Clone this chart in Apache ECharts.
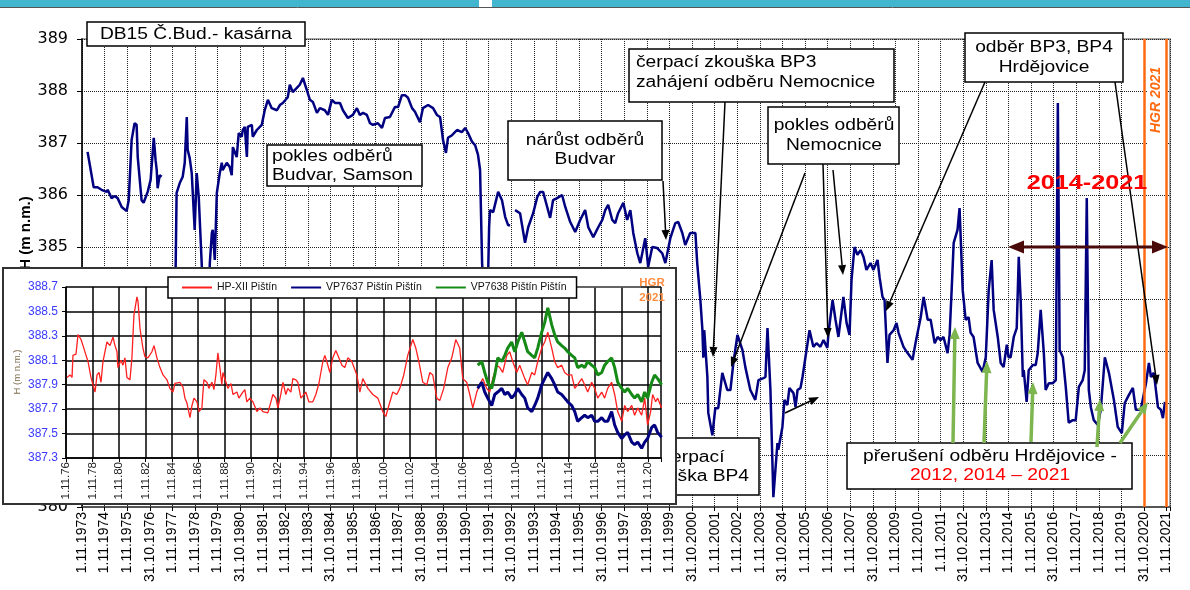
<!DOCTYPE html>
<html>
<head>
<meta charset="utf-8">
<script src="https://cdn.jsdelivr.net/npm/echarts@6/dist/echarts.min.js"></script>
<style>
  html, body { margin: 0; padding: 0; background: #fff; }
  #chart { width: 1190px; height: 590px; }
</style>
</head>
<body>
<div id="chart"></div>
<script>
// ---- DB15 Č.Bud.- kasárna : groundwater level (m n.m.), [decimal year, level]
const mainLevels = [
  [1974.08, 386.83], [1974.35, 386.15], [1974.52, 386.15], [1974.70, 386.10], [1974.92, 386.06],
  [1974.97, 386.10], [1975.14, 385.94], [1975.28, 385.98], [1975.41, 385.94], [1975.59, 385.77],
  [1975.81, 385.69], [1975.90, 385.90], [1976.03, 387.06], [1976.16, 387.38], [1976.25, 387.35],
  [1976.30, 386.73], [1976.47, 385.90], [1976.56, 385.85], [1976.74, 386.06], [1976.87, 386.29],
  [1977.01, 387.10], [1977.09, 386.67], [1977.14, 386.48], [1977.18, 386.13], [1977.27, 386.38],
  [1977.36, 386.35], [1977.60, null],
  [1977.95, 383.60], [1977.98, 384.69], [1978.02, 386.04], [1978.16, 386.23], [1978.29, 386.35],
  [1978.38, 386.62], [1978.47, 387.50], [1978.51, 386.87], [1978.60, 386.71], [1978.69, 386.42],
  [1978.82, 385.33], [1978.91, 386.42], [1979.00, 385.96], [1979.13, 384.69], [1979.25, 383.40],
  [1979.38, 383.10], [1979.49, 384.69], [1979.58, 385.27], [1979.62, 385.33], [1979.71, 384.75],
  [1979.80, 386.04], [1979.93, 386.42], [1980.02, 386.62], [1980.06, 386.48], [1980.24, 386.62],
  [1980.37, 386.54], [1980.46, 386.38], [1980.51, 386.92], [1980.68, 386.73], [1980.77, 387.19],
  [1980.90, 387.12], [1980.95, 387.25], [1981.04, 387.31], [1981.13, 386.73], [1981.17, 387.31],
  [1981.35, 387.35], [1981.39, 387.12], [1981.57, 387.25], [1981.79, 387.35], [1981.92, 387.63],
  [1982.06, 387.83], [1982.23, 387.67], [1982.46, 387.63], [1982.59, 387.73], [1982.72, 387.77],
  [1982.94, 387.88], [1983.03, 388.12], [1983.16, 387.98], [1983.34, 388.06], [1983.47, 388.12],
  [1983.61, 388.25], [1983.78, 388.02], [1983.92, 387.83], [1984.05, 387.79], [1984.23, 387.58],
  [1984.36, 387.67], [1984.58, 387.63], [1984.72, 387.54], [1984.89, 387.83], [1985.03, 387.77],
  [1985.25, 387.77], [1985.38, 387.63], [1985.60, 387.48], [1985.82, 387.54], [1986.00, 387.67],
  [1986.13, 387.54], [1986.27, 387.58], [1986.44, 387.54], [1986.58, 387.38], [1986.71, 387.35],
  [1986.93, 387.38], [1987.11, 387.29], [1987.24, 387.48], [1987.46, 387.50], [1987.68, 387.69],
  [1987.82, 387.69], [1987.99, 387.92], [1988.13, 387.92], [1988.26, 387.87], [1988.44, 387.67],
  [1988.57, 387.60], [1988.79, 387.40], [1988.92, 387.67], [1989.15, 387.73], [1989.37, 387.67],
  [1989.54, 387.54], [1989.68, 387.50], [1989.81, 387.06], [1989.94, 386.81], [1990.03, 387.10],
  [1990.21, 387.15], [1990.43, 387.25], [1990.65, 387.21], [1990.79, 387.29], [1990.92, 387.19],
  [1991.10, 387.02], [1991.23, 386.96], [1991.36, 386.77], [1991.45, 386.48], [1991.54, 384.69],
  [1991.65, 383.80], [1991.78, 383.90], [1991.85, 385.38], [1991.89, 385.71], [1992.03, 385.67],
  [1992.25, 386.06], [1992.42, 385.90], [1992.56, 385.58], [1992.69, 385.42], [1992.78, 385.42],
  [1992.90, null],
  [1993.00, 385.71], [1993.22, 385.65], [1993.44, 385.08], [1993.58, 385.38], [1993.80, 385.65],
  [1993.98, 385.96], [1994.11, 386.06], [1994.24, 386.06], [1994.42, 385.77], [1994.55, 385.56],
  [1994.68, 385.90], [1994.86, 385.94], [1995.08, 386.00], [1995.22, 385.77], [1995.44, 385.48],
  [1995.66, 385.29], [1995.88, 385.52], [1996.10, 385.71], [1996.24, 385.38], [1996.46, 385.19],
  [1996.68, 385.38], [1996.86, 385.52], [1996.99, 385.71], [1997.12, 385.81], [1997.30, 385.52],
  [1997.43, 385.46], [1997.56, 385.65], [1997.79, 385.85], [1997.96, 385.52], [1998.10, 385.71],
  [1998.23, 385.27], [1998.41, 384.88], [1998.54, 384.69], [1998.76, 385.17], [1998.89, 384.62],
  [1999.07, 385.00], [1999.29, 384.98], [1999.51, 384.88], [1999.65, 384.69], [1999.87, 385.17],
  [2000.09, 385.46], [2000.22, 385.48], [2000.40, 385.27], [2000.53, 385.04], [2000.75, 385.27],
  [2000.98, 385.27], [2001.06, 384.69], [2001.20, 383.98], [2001.29, 383.40], [2001.33, 382.87],
  [2001.37, 383.40], [2001.51, 382.50], [2001.55, 381.81], [2001.73, 381.38], [2001.86, 381.90],
  [2001.99, 381.90], [2002.17, 382.58], [2002.39, 382.25], [2002.53, 382.25], [2002.66, 382.77],
  [2002.84, 383.31], [2003.06, 383.02], [2003.19, 382.69], [2003.41, 382.25], [2003.63, 382.06],
  [2003.77, 382.44], [2003.99, 382.48], [2004.08, 382.50], [2004.17, 383.44], [2004.30, 382.25],
  [2004.43, 380.19], [2004.61, 381.23], [2004.65, 381.10], [2004.83, 381.54], [2004.92, 382.06],
  [2005.05, 381.96], [2005.14, 382.29], [2005.32, 382.19], [2005.41, 381.92], [2005.50, 382.25],
  [2005.63, 382.29], [2005.72, 382.50], [2005.85, 382.88], [2006.03, 383.40], [2006.20, 383.08],
  [2006.34, 383.15], [2006.51, 383.08], [2006.65, 383.21], [2006.82, 383.06], [2006.87, 383.35],
  [2007.05, 383.98], [2007.18, 383.60], [2007.31, 383.27], [2007.53, 384.04], [2007.67, 383.54],
  [2007.80, 383.31], [2007.89, 384.37], [2008.02, 385.00], [2008.15, 384.85], [2008.29, 384.94],
  [2008.42, 384.81], [2008.55, 384.56], [2008.73, 384.69], [2008.86, 384.56], [2009.04, 384.75],
  [2009.13, 384.42], [2009.26, 384.04], [2009.35, 383.98], [2009.48, 382.77], [2009.57, 383.31],
  [2009.75, 383.40], [2009.88, 383.54], [2009.97, 383.35], [2010.19, 383.08], [2010.37, 382.96],
  [2010.59, 382.83], [2010.72, 383.15], [2010.95, 383.65], [2011.08, 384.04], [2011.26, 383.60],
  [2011.39, 383.60], [2011.57, 383.15], [2011.70, 383.27], [2011.83, 383.21], [2011.96, 383.27],
  [2012.14, 382.96], [2012.23, 383.31], [2012.32, 384.17], [2012.41, 385.08], [2012.58, 385.33],
  [2012.67, 385.75], [2012.81, 384.17], [2012.94, 383.60], [2013.07, 383.65], [2013.16, 383.35],
  [2013.29, 383.27], [2013.47, 382.77], [2013.69, 382.60], [2013.83, 382.88], [2013.96, 384.17],
  [2014.09, 384.75], [2014.18, 383.79], [2014.36, 383.27], [2014.49, 382.77], [2014.62, 382.69],
  [2014.76, 383.12], [2014.84, 382.88], [2014.93, 382.88], [2015.07, 383.27], [2015.20, 383.44],
  [2015.29, 384.81], [2015.38, 383.92], [2015.47, 382.50], [2015.51, 382.63], [2015.64, 382.02],
  [2015.73, 382.63], [2015.91, 382.73], [2016.04, 382.73], [2016.13, 382.96], [2016.26, 383.79],
  [2016.40, 382.96], [2016.48, 382.25], [2016.62, 382.38], [2016.79, 382.38], [2016.93, 382.44],
  [2017.02, 387.77], [2017.10, 383.02], [2017.24, 382.88], [2017.37, 382.31], [2017.50, 381.62],
  [2017.68, 381.67], [2017.81, 381.67], [2017.95, 382.31], [2018.12, 382.44], [2018.21, 382.63],
  [2018.30, 385.94], [2018.39, 382.25], [2018.48, 381.92], [2018.61, 381.67], [2018.79, 381.58],
  [2018.92, 381.87], [2019.10, 382.88], [2019.28, 382.58], [2019.50, 382.06], [2019.67, 381.54],
  [2019.85, 381.42], [2019.98, 382.00], [2020.16, 382.15], [2020.34, 382.29], [2020.47, 381.87],
  [2020.69, 381.87], [2020.92, 382.38], [2021.05, 382.77], [2021.14, 382.50], [2021.27, 382.58],
  [2021.45, 381.92], [2021.58, 381.87], [2021.67, 381.71], [2021.76, 382.02]
];

const mainTickLabels = [
  '1.11.1973', '1.11.1974', '1.11.1975', '31.10.1976', '1.11.1977', '1.11.1978', '1.11.1979',
  '31.10.1980', '1.11.1981', '1.11.1982', '1.11.1983', '31.10.1984', '1.11.1985', '1.11.1986',
  '1.11.1987', '31.10.1988', '1.11.1989', '1.11.1990', '1.11.1991', '31.10.1992', '1.11.1993',
  '1.11.1994', '1.11.1995', '31.10.1996', '1.11.1997', '1.11.1998', '1.11.1999', '31.10.2000',
  '1.11.2001', '1.11.2002', '1.11.2003', '31.10.2004', '1.11.2005', '1.11.2006', '1.11.2007',
  '31.10.2008', '1.11.2009', '1.11.2010', '1.11.2011', '31.10.2012', '1.11.2013', '1.11.2014',
  '1.11.2015', '31.10.2016', '1.11.2017', '1.11.2018', '1.11.2019', '31.10.2020', '1.11.2021'
];

// HGR 2021 period boundaries (decimal years)
const hgrYears = [2020 + 10 / 12, 2021 + 10 / 12];

// ---- Pištín wells (inset), [decimal year, level]
const hpXII = [
  [1976.91, 387.96], [1977.14, 387.98], [1977.29, 387.96], [1977.36, 388.14], [1977.59, 388.15],
  [1977.74, 388.31], [1977.97, 388.27], [1978.12, 388.22], [1978.35, 388.14], [1978.50, 388.09],
  [1978.72, 387.96], [1978.87, 387.95], [1979.03, 387.84], [1979.18, 387.98], [1979.33, 388.00],
  [1979.48, 387.92], [1979.63, 388.09], [1979.78, 388.08], [1979.93, 388.25], [1980.16, 388.22],
  [1980.39, 388.29], [1980.54, 388.22], [1980.69, 388.17], [1980.76, 388.04], [1980.99, 388.10],
  [1981.14, 388.06], [1981.29, 388.12], [1981.44, 387.96], [1981.67, 387.94], [1981.82, 388.12],
  [1981.97, 388.47], [1982.20, 388.62], [1982.28, 388.58], [1982.43, 388.36], [1982.65, 388.20],
  [1982.80, 388.13], [1983.03, 388.12], [1983.33, 388.17], [1983.49, 388.22], [1983.71, 388.12],
  [1983.94, 388.04], [1984.17, 387.98], [1984.47, 387.94], [1984.69, 387.87], [1984.92, 387.84],
  [1985.07, 387.91], [1985.22, 387.90], [1985.45, 387.92], [1985.68, 387.88], [1985.83, 387.79],
  [1985.98, 387.75], [1986.21, 387.63], [1986.36, 387.73], [1986.51, 387.79], [1986.74, 387.76],
  [1986.89, 387.68], [1987.11, 387.71], [1987.26, 387.94], [1987.49, 387.92], [1987.64, 387.87],
  [1987.87, 387.92], [1988.02, 387.86], [1988.17, 387.98], [1988.32, 388.16], [1988.47, 388.04],
  [1988.62, 387.90], [1988.70, 388.00], [1988.93, 387.92], [1989.08, 387.87], [1989.31, 387.91],
  [1989.46, 387.82], [1989.76, 387.84], [1989.91, 387.79], [1990.21, 387.84], [1990.36, 387.86],
  [1990.51, 387.76], [1990.74, 387.79], [1990.97, 387.76], [1991.12, 387.76], [1991.27, 387.68],
  [1991.50, 387.71], [1991.72, 387.68], [1991.87, 387.67], [1992.10, 387.67], [1992.33, 387.76],
  [1992.48, 387.82], [1992.71, 387.79], [1992.86, 387.71], [1993.08, 387.82], [1993.24, 387.92],
  [1993.46, 387.82], [1993.61, 387.87], [1993.84, 387.84], [1993.99, 387.95], [1994.22, 387.94],
  [1994.37, 387.92], [1994.60, 387.79], [1994.75, 387.80], [1994.97, 387.84], [1995.20, 387.76],
  [1995.50, 387.76], [1995.73, 387.82], [1995.96, 387.91], [1996.26, 388.09], [1996.41, 388.14],
  [1996.56, 388.09], [1996.79, 388.00], [1997.01, 388.12], [1997.24, 388.18], [1997.47, 388.12],
  [1997.70, 388.06], [1997.92, 388.04], [1998.15, 388.12], [1998.45, 388.09], [1998.83, 387.98],
  [1999.06, 387.84], [1999.28, 387.95], [1999.66, 387.87], [2000.04, 387.82], [2000.42, 387.79],
  [2000.79, 387.68], [2001.02, 387.64], [2001.25, 387.73], [2001.55, 387.84], [2001.85, 387.82],
  [2002.08, 387.87], [2002.38, 387.98], [2002.68, 388.14], [2003.06, 388.27], [2003.29, 388.20],
  [2003.52, 388.09], [2003.82, 387.92], [2004.12, 387.90], [2004.35, 388.00], [2004.57, 387.98],
  [2004.88, 387.79], [2005.10, 387.77], [2005.40, 387.87], [2005.71, 388.04], [2006.01, 388.12],
  [2006.31, 388.27], [2006.61, 388.20], [2006.84, 387.95], [2007.14, 387.92], [2007.37, 387.82],
  [2007.60, 387.71], [2007.90, 387.84], [2008.13, 387.90], [2008.35, 387.95], [2008.65, 387.87],
  [2008.88, 387.84], [2009.11, 387.95], [2009.41, 388.06], [2009.64, 388.04], [2009.86, 388.00],
  [2010.17, 388.14], [2010.39, 388.17], [2010.62, 388.09], [2010.92, 388.00], [2011.15, 388.06],
  [2011.53, 387.95], [2011.75, 387.90], [2012.06, 388.00], [2012.28, 387.98], [2012.51, 388.09],
  [2012.81, 388.20], [2013.04, 388.25], [2013.27, 388.33], [2013.57, 388.20], [2013.79, 388.09],
  [2014.02, 388.04], [2014.32, 388.06], [2014.55, 388.00], [2014.78, 387.98], [2015.08, 387.98],
  [2015.31, 387.87], [2015.53, 387.90], [2015.84, 387.95], [2016.06, 387.90], [2016.29, 387.84],
  [2016.59, 387.92], [2016.82, 387.87], [2017.05, 387.79], [2017.35, 387.84], [2017.57, 387.79],
  [2017.80, 387.87], [2018.10, 387.92], [2018.33, 387.82], [2018.56, 387.68], [2018.86, 387.60],
  [2019.09, 387.73], [2019.31, 387.68], [2019.62, 387.73], [2019.84, 387.65], [2020.07, 387.71],
  [2020.37, 387.65], [2020.60, 387.79], [2020.82, 387.57], [2021.05, 387.68], [2021.20, 387.82],
  [2021.43, 387.76], [2021.58, 387.79], [2021.88, 387.71]
];

const vp7637 = [
  [2007.97, 387.87], [2008.28, 387.92], [2008.50, 387.84], [2008.73, 387.79], [2009.03, 387.73],
  [2009.26, 387.82], [2009.49, 387.84], [2009.79, 387.87], [2010.02, 387.82], [2010.24, 387.84],
  [2010.54, 387.79], [2010.77, 387.82], [2011.00, 387.87], [2011.30, 387.82], [2011.53, 387.79],
  [2011.75, 387.71], [2012.06, 387.68], [2012.28, 387.73], [2012.51, 387.79], [2012.81, 387.90],
  [2013.04, 387.95], [2013.27, 388.00], [2013.57, 387.95], [2013.79, 387.90], [2014.02, 387.84],
  [2014.32, 387.82], [2014.55, 387.79], [2014.78, 387.76], [2015.08, 387.73], [2015.31, 387.68],
  [2015.53, 387.60], [2015.84, 387.63], [2016.06, 387.65], [2016.29, 387.63], [2016.59, 387.65],
  [2016.82, 387.60], [2017.05, 387.60], [2017.35, 387.63], [2017.57, 387.60], [2017.80, 387.60],
  [2018.10, 387.68], [2018.33, 387.57], [2018.56, 387.51], [2018.86, 387.46], [2019.09, 387.49],
  [2019.31, 387.51], [2019.62, 387.43], [2019.84, 387.41], [2020.07, 387.43], [2020.37, 387.38],
  [2020.60, 387.43], [2020.82, 387.46], [2021.13, 387.55], [2021.35, 387.57], [2021.58, 387.51],
  [2021.88, 387.47]
];

const vp7638 = [
  [2007.97, 388.06], [2008.28, 388.09], [2008.50, 388.00], [2008.73, 387.92], [2009.03, 387.87],
  [2009.26, 387.98], [2009.49, 388.12], [2009.79, 388.09], [2010.02, 388.14], [2010.24, 388.20],
  [2010.54, 388.25], [2010.77, 388.17], [2011.00, 388.25], [2011.30, 388.33], [2011.53, 388.25],
  [2011.75, 388.17], [2012.06, 388.14], [2012.28, 388.12], [2012.51, 388.20], [2012.81, 388.33],
  [2013.04, 388.41], [2013.27, 388.53], [2013.57, 388.39], [2013.79, 388.31], [2014.02, 388.25],
  [2014.32, 388.22], [2014.55, 388.20], [2014.78, 388.17], [2015.08, 388.14], [2015.31, 388.12],
  [2015.53, 388.04], [2015.84, 388.06], [2016.06, 388.04], [2016.29, 388.09], [2016.59, 388.06],
  [2016.82, 388.04], [2017.05, 387.98], [2017.35, 388.00], [2017.57, 388.06], [2017.80, 388.09],
  [2018.10, 388.12], [2018.33, 388.04], [2018.56, 387.92], [2018.86, 387.87], [2019.09, 387.84],
  [2019.31, 387.87], [2019.62, 387.82], [2019.84, 387.79], [2020.07, 387.82], [2020.37, 387.76],
  [2020.60, 387.84], [2020.82, 387.79], [2021.13, 387.92], [2021.35, 387.98], [2021.58, 387.95],
  [2021.88, 387.90]
];

const insetTickLabels = [
  '1.11.76', '1.11.78', '1.11.80', '1.11.82', '1.11.84', '1.11.86', '1.11.88', '1.11.90',
  '1.11.92', '1.11.94', '1.11.96', '1.11.98', '1.11.00', '1.11.02', '1.11.04', '1.11.06',
  '1.11.08', '1.11.10', '1.11.12', '1.11.14', '1.11.16', '1.11.18', '1.11.20'
];
const insetSeriesNames = ['HP-XII Pištín', 'VP7637 Pištín Pištín', 'VP7638 Pištín Pištín'];

// ---- axis origins: both time axes count years from 1 November
const START = 1973 + 10 / 12;
const INSET_START = 1976 + 10 / 12;
const INSET_BASE = 387.3;
const HGR_TOP = 388.51; // upper end of HGR markers in the inset

const toMain = (rows) => rows.map(([t, h]) => [t - START, h === null ? '-' : h]);
const toInset = (rows) => rows.map(([t, h]) => [t - INSET_START, +(h - INSET_BASE).toFixed(3)]);
const isStep = (v, s) => Math.abs(v / s - Math.round(v / s)) < 1e-6;

// ---- drawing helpers for the annotations
const FONT = 'Liberation Sans';
function box(x, y, w, h, z) {
  return { type: 'rect', z, shape: { x, y, width: w, height: h },
    style: { fill: '#fff', stroke: '#000', lineWidth: 1.5 } };
}
function txt(s, x, y, o = {}) {
  return { type: 'text', x, y, z: o.z ?? 6, rotation: o.rot || 0, scaleX: o.sx ?? 1.2,
    style: { text: s, fill: o.color || '#000', fontSize: o.size || 16, fontFamily: o.family || FONT,
      fontWeight: o.weight || 'normal', fontStyle: o.style || 'normal',
      align: o.align || 'center', verticalAlign: 'middle' } };
}
function arrow(x1, y1, x2, y2, o = {}) {
  const color = o.color || '#000', w = o.width || 1.5, hl = o.hl || 10, hw = o.hw || 8, z = o.z ?? 6;
  const a = Math.atan2(y2 - y1, x2 - x1);
  const bx = x2 - hl * Math.cos(a), by = y2 - hl * Math.sin(a);
  const px = -Math.sin(a) * hw / 2, py = Math.cos(a) * hw / 2;
  return [
    { type: 'line', z, shape: { x1, y1, x2: bx, y2: by }, style: { stroke: color, lineWidth: w } },
    { type: 'polygon', z, shape: { points: [[x2, y2], [bx + px, by + py], [bx - px, by - py]] },
      style: { fill: color } }
  ];
}

const GREEN = '#7db54f';
const els = [
  // header band
  { type: 'rect', z: 1, shape: { x: 0, y: 0, width: 479, height: 7 }, style: { fill: '#42b5cf' } },
  { type: 'rect', z: 1, shape: { x: 492, y: 0, width: 698, height: 7 }, style: { fill: '#42b5cf' } },
  { type: 'line', z: 1, shape: { x1: 0, y1: 7.5, x2: 1190, y2: 7.5 }, style: { stroke: '#555', lineWidth: 1 } },

  // title and axis name
  box(87, 22, 218, 24, 5),
  txt('DB15 Č.Bud.- kasárna', 196, 34.5),
  txt('H (m n.m.)', 26, 233, { rot: Math.PI / 2, sx: 1, weight: 'bold', size: 15, z: 3 }),

  // annotation boxes
  box(267, 145, 155, 41, 5),
  txt('pokles odběrů', 272, 157, { align: 'left' }),
  txt('Budvar, Samson', 272, 176, { align: 'left' }),

  box(508, 121, 154, 59, 5),
  txt('nárůst odběrů', 585, 141),
  txt('Budvar', 585, 160),
  ...arrow(663, 181, 666, 240),

  box(629, 49, 265, 53, 5),
  txt('čerpací zkouška BP3', 636, 63, { align: 'left' }),
  txt('zahájení odběru Nemocnice', 636, 83, { align: 'left' }),
  ...arrow(725, 102, 713, 357),

  box(768, 107, 131, 57, 5),
  txt('pokles odběrů', 834, 126),
  txt('Nemocnice', 834, 146),
  ...arrow(805, 173, 731, 367),
  ...arrow(823, 164, 828, 338),
  ...arrow(833, 170, 843, 275),

  box(965, 33, 158, 49, 5),
  txt('odběr BP3, BP4', 1044, 48),
  txt('Hrdějovice', 1044, 68),
  ...arrow(985, 82, 886, 311),
  ...arrow(1115, 82, 1157, 385),

  box(627, 438, 132, 57, 5),
  txt('čerpací', 693, 458),
  txt('zkouška BP4', 693, 477),
  ...arrow(785, 413, 819, 397),

  box(847, 443, 285, 46, 5),
  txt('přerušení odběru Hrdějovice -', 990, 457),
  txt('2012, 2014 – 2021', 990, 476, { color: '#ff0000' }),
  ...arrow(953, 443, 955, 327, { color: GREEN, width: 3.5, hl: 12, hw: 10 }),
  ...arrow(984, 443, 987, 361, { color: GREEN, width: 3.5, hl: 12, hw: 10 }),
  ...arrow(1031, 442, 1033, 382, { color: GREEN, width: 3.5, hl: 12, hw: 10 }),
  ...arrow(1097, 447, 1100, 399, { color: GREEN, width: 3.5, hl: 12, hw: 10 }),
  ...arrow(1120, 443, 1148, 402, { color: GREEN, width: 3.5, hl: 12, hw: 10 }),

  // 2014-2021 span
  txt('2014-2021', 1087, 183, { color: '#ff0000', weight: 'bold', size: 21 }),
  ...arrow(1088, 247, 1008, 247, { color: '#4a0a0a', width: 3, hl: 16, hw: 13 }),
  ...arrow(1088, 247, 1168, 247, { color: '#4a0a0a', width: 3, hl: 16, hw: 13 }),

  // HGR 2021 label between the orange markers
  { type: 'rect', z: 4, shape: { x: 1147, y: 62, width: 21, height: 82 }, style: { fill: '#fff' } },
  txt('HGR 2021', 1156, 100, { rot: Math.PI / 2, sx: 1, color: '#ff6a10', weight: 'bold', style: 'italic', size: 14 }),

  // inset panel (Pištín)
  { type: 'rect', z: 10, shape: { x: 3, y: 268, width: 673, height: 236 },
    style: { fill: '#fff', stroke: '#333', lineWidth: 2 } },
  txt('H (m n.m.)', 17, 372, { rot: Math.PI / 2, sx: 1, size: 9.5, color: '#7d6a4c', z: 12 }),
  { type: 'line', z: 12, shape: { x1: 572, y1: 287, x2: 641, y2: 287 }, style: { stroke: '#8a8a8a', lineWidth: 1 } },
  txt('HGR', 652, 283, { sx: 1, size: 11.5, weight: 'bold', color: '#ff8c40', z: 12 }),
  txt('2021', 652, 298, { sx: 1, size: 11.5, weight: 'bold', color: '#ff8c40', z: 12 })
];

const dotted = { show: true, lineStyle: { color: '#222', type: 'dotted', width: 1 } };
const solidGrid = { show: true, lineStyle: { color: '#000', type: 'solid', width: 1.5 } };

const option = {
  animation: false,
  backgroundColor: '#fff',
  grid: [
    { left: 82, right: 20, top: 39, bottom: 83, show: true, borderColor: '#a6a6a6', borderWidth: 2,
      backgroundColor: 'rgba(0,0,0,0)' },
    { left: 66, right: 529, top: 287, bottom: 132, z: 11 }
  ],
  legend: {
    data: insetSeriesNames, left: 168, top: 277, z: 15, selectedMode: false,
    icon: 'rect', itemWidth: 30, itemHeight: 2, itemGap: 14,
    padding: [5, 10, 5, 14], borderColor: '#000', borderWidth: 1.5, backgroundColor: '#fff',
    textStyle: { fontSize: 10.5, fontFamily: FONT, color: '#111' }
  },
  xAxis: [
    { type: 'value', gridIndex: 0, min: 0, max: 48.15, interval: 1,
      axisLine: { lineStyle: { color: '#555', width: 2 } },
      axisTick: { show: true, length: 4, lineStyle: { color: '#000' } },
      axisLabel: { rotate: 90, fontSize: 14, fontFamily: FONT, color: '#000', margin: 5,
        formatter: (v) => isStep(v, 1) ? (mainTickLabels[Math.round(v)] || '') : '' },
      splitLine: dotted },
    { type: 'value', gridIndex: 1, min: 0, max: 45, interval: 2, z: 11,
      axisLine: { lineStyle: { color: '#000', width: 1.5 } },
      axisTick: { show: true, length: 4, lineStyle: { color: '#000' } },
      axisLabel: { rotate: 90, fontSize: 11.5, fontFamily: FONT, color: '#222', margin: 4,
        formatter: (v) => isStep(v, 2) ? (insetTickLabels[Math.round(v / 2)] || '') : '' },
      splitLine: solidGrid }
  ],
  yAxis: [
    { type: 'value', gridIndex: 0, min: 380, max: 389, interval: 1,
      axisLine: { show: true, lineStyle: { color: '#000', width: 1.5 } },
      axisTick: { show: true, length: 5, lineStyle: { color: '#000' } },
      axisLabel: { fontSize: 16, fontFamily: 'DejaVu Sans', color: '#000', margin: 14 },
      splitLine: dotted },
    { type: 'value', gridIndex: 1, min: 0, max: 1.4, interval: 0.2, z: 11,
      axisLine: { show: true, lineStyle: { color: '#000', width: 1.5 } },
      axisTick: { show: true, length: 4, lineStyle: { color: '#000' } },
      axisLabel: { fontSize: 12, fontFamily: FONT, color: '#3a3aff', margin: 8,
        formatter: (v) => (INSET_BASE + v).toFixed(1) },
      splitLine: solidGrid }
  ],
  series: [
    { name: 'DB15', type: 'line', xAxisIndex: 0, yAxisIndex: 0, data: toMain(mainLevels),
      showSymbol: false, connectNulls: false, z: 2,
      lineStyle: { color: '#000080', width: 2.5 },
      markLine: { silent: true, symbol: 'none', label: { show: false },
        lineStyle: { color: '#ff6a10', width: 2.5, type: 'solid' },
        data: hgrYears.map((t) => ({ xAxis: t - START })) } },
    { name: insetSeriesNames[0], type: 'line', xAxisIndex: 1, yAxisIndex: 1, data: toInset(hpXII),
      showSymbol: false, z: 12, color: '#ff2020', lineStyle: { color: '#ff2020', width: 1.3 },
      markLine: { silent: true, symbol: 'none', label: { show: false },
        lineStyle: { color: '#f07a2a', width: 1.5, type: 'solid' },
        data: hgrYears.map((t) => [
          { coord: [t - INSET_START, HGR_TOP - INSET_BASE] },
          { coord: [t - INSET_START, 0] }
        ]) } },
    { name: insetSeriesNames[1], type: 'line', xAxisIndex: 1, yAxisIndex: 1, data: toInset(vp7637),
      showSymbol: false, z: 12, color: '#000080', lineStyle: { color: '#000080', width: 3 } },
    { name: insetSeriesNames[2], type: 'line', xAxisIndex: 1, yAxisIndex: 1, data: toInset(vp7638),
      showSymbol: false, z: 12, color: '#168a16', lineStyle: { color: '#168a16', width: 3 } }
  ],
  graphic: { elements: els }
};

const chart = echarts.init(document.getElementById('chart'), null, { renderer: 'canvas' });
chart.setOption(option);
</script>
</body>
</html>
